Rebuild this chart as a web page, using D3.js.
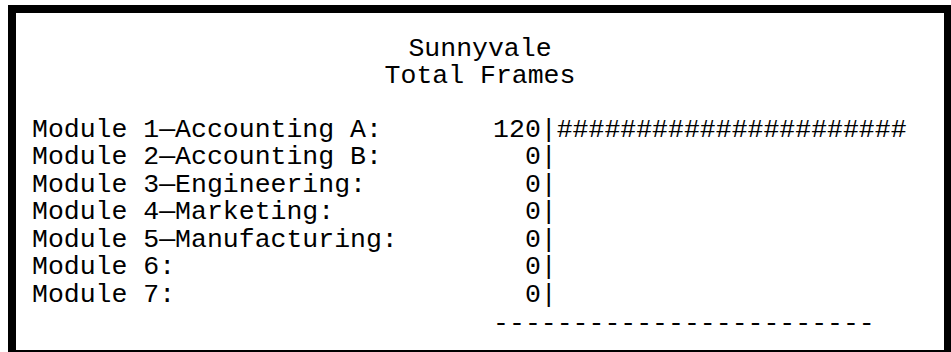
<!DOCTYPE html>
<html>
<head>
<meta charset="utf-8">
<script src="https://cdn.jsdelivr.net/npm/d3@7"></script>
<style>
  html, body { margin: 0; padding: 0; background: #fff; }
  svg { display: block; }
  text { font-family: "Liberation Mono", "Courier New", monospace; font-size: 26.5px; fill: #000; white-space: pre; }
</style>
</head>
<body>
<svg id="chart" width="951" height="352"></svg>
<script>
// ---- data ----
const titleLines = ["Sunnyvale", "Total Frames"];
const categories = [
  "Module 1\u2014Accounting A:",
  "Module 2\u2014Accounting B:",
  "Module 3\u2014Engineering:",
  "Module 4\u2014Marketing:",
  "Module 5\u2014Manufacturing:",
  "Module 6:",
  "Module 7:"
];
const values = [120, 0, 0, 0, 0, 0, 0];
const maxValue = 120;
const barChars = 22;      // '#' count at maxValue
const axisChars = 24;     // dashes in the axis line

// ---- layout ----
const svg = d3.select("#chart");
const W = 951, H = 352;
const charW = 15.9;        // monospace advance (0.6em @ 26.5px)
const left0 = 32;          // first text column
const lineH = 27.45;
const firstRowY = 137;

// frame
svg.append("rect").attr("x", 8).attr("y", 5).attr("width", W).attr("height", H).attr("fill", "#000");
svg.append("rect").attr("x", 16).attr("y", 13).attr("width", 928).attr("height", 337).attr("fill", "#fff");

// column scale (character grid)
const col = d3.scaleLinear().domain([0, 1]).range([left0, left0 + charW]);
// row scale
const rowIdx = d3.range(categories.length);
const row = d3.scalePoint().domain(rowIdx).range([firstRowY, firstRowY + (categories.length - 1) * lineH]);
// value scale -> number of characters
const x = d3.scaleLinear().domain([0, maxValue]).range([0, barChars]);

// titles
svg.selectAll("text.title").data(titleLines).join("text")
  .attr("class", "title")
  .attr("x", 480)
  .attr("y", (d, i) => firstRowY - (3 - i) * lineH + 1)
  .attr("text-anchor", "middle")
  .text(d => d);

const numCol = 32; // column of the '|'
const g = svg.selectAll("g.row").data(rowIdx).join("g").attr("class", "row");

g.append("text")
  .attr("x", col(0))
  .attr("y", i => row(i))
  .text(i => categories[i]);

g.append("text")
  .attr("x", col(numCol))
  .attr("y", i => row(i))
  .attr("text-anchor", "end")
  .text(i => String(values[i]));

g.append("text")
  .attr("x", col(numCol))
  .attr("y", i => row(i))
  .text(i => "|" + "#".repeat(Math.round(x(values[i]))));

// axis line of dashes
svg.append("text")
  .attr("x", col(29))
  .attr("y", row(categories.length - 1) + lineH + 2)
  .text("-".repeat(axisChars));
</script>
</body>
</html>
